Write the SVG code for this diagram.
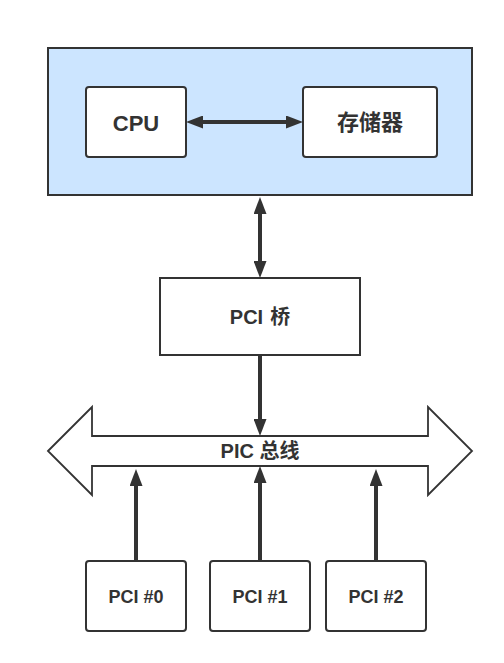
<svg xmlns="http://www.w3.org/2000/svg" width="504" height="663" viewBox="0 0 504 663">
  <style>
    .box { fill: #ffffff; stroke: #333333; stroke-width: 2; }
    .host { fill: #cce5ff; stroke: #333333; stroke-width: 2; }
    .bus { fill: #ffffff; stroke: #333333; stroke-width: 1.8; stroke-linejoin: miter; }
    .lbl { font-family: "Liberation Sans", "Noto Sans CJK SC", sans-serif; font-weight: bold; fill: #333333; text-anchor: middle; }
    .wire { stroke: #333333; stroke-width: 4; fill: none; }
  </style>
  <defs>
    <marker id="head" markerUnits="userSpaceOnUse" markerWidth="17" markerHeight="13" viewBox="0 0 17 13" refX="7" refY="6.5" orient="auto-start-reverse">
      <path d="M0,0 L17,6.5 L0,13 z" fill="#333333"/>
    </marker>
  </defs>

  <rect width="504" height="663" fill="#ffffff"/>

  <!-- host: CPU and memory -->
  <g id="host">
    <rect class="host" x="48" y="48" width="424" height="147"/>
  </g>
  <g id="cpu">
    <rect class="box" x="86" y="87" width="100" height="70" rx="3"/>
    <text class="lbl" x="136" y="130.5" font-size="22">CPU</text>
  </g>
  <g id="memory">
    <rect class="box" x="303" y="87" width="134" height="70" rx="3"/>
    <text class="lbl" x="370" y="130" font-size="22">存储器</text>
  </g>

  <!-- PCI bridge -->
  <g id="bridge">
    <rect x="160" y="278" width="200" height="77" fill="#ffffff" stroke="#333333" stroke-width="2"/>
    <text class="lbl" x="260" y="324" font-size="20" word-spacing="1.5">PCI 桥</text>
  </g>

  <!-- bus drawn as a double-headed arrow -->
  <g id="bus">
    <polygon class="bus" points="48,451 92,407 92,436 428,436 428,407 472,451 428,495 428,466 92,466 92,495"/>
    <text class="lbl" x="260" y="458" font-size="20">PIC 总线</text>
  </g>

  <!-- devices -->
  <g id="pci0">
    <rect class="box" x="86" y="561" width="100" height="70" rx="3"/>
    <text class="lbl" x="136" y="602.5" font-size="18">PCI #0</text>
  </g>
  <g id="pci1">
    <rect class="box" x="210" y="561" width="100" height="70" rx="3"/>
    <text class="lbl" x="260" y="602.5" font-size="18">PCI #1</text>
  </g>
  <g id="pci2">
    <rect class="box" x="326" y="561" width="100" height="70" rx="3"/>
    <text class="lbl" x="376" y="602.5" font-size="18">PCI #2</text>
  </g>

  <!-- connectors -->
  <g id="connectors">
    <line class="wire" x1="196" y1="122" x2="293" y2="122" marker-start="url(#head)" marker-end="url(#head)"/>
    <line class="wire" x1="260" y1="207" x2="260" y2="268" marker-start="url(#head)" marker-end="url(#head)"/>
    <line class="wire" x1="260" y1="356" x2="260" y2="426" marker-end="url(#head)"/>
    <line class="wire" x1="136" y1="560" x2="136" y2="479" marker-end="url(#head)"/>
    <line class="wire" x1="260" y1="560" x2="260" y2="476" marker-end="url(#head)"/>
    <line class="wire" x1="376" y1="560" x2="376" y2="479" marker-end="url(#head)"/>
  </g>
</svg>
